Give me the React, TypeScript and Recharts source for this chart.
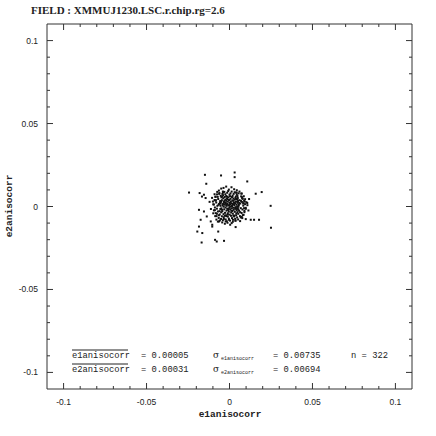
import { Scatter, ScatterChart, XAxis, YAxis } from 'recharts'

const TITLE = 'FIELD : XMMUJ1230.LSC.r.chip.rg=2.6'
const X_LABEL = 'e1anisocorr'
const Y_LABEL = 'e2anisocorr'

const DOMAIN: [number, number] = [-0.11, 0.11]
const MAJOR_TICKS = [-0.1, -0.05, 0, 0.05, 0.1]
const MAJOR_LABELS = ['-0.1', '-0.05', '0', '0.05', '0.1']
const ALL_TICKS = [
  -0.1, -0.09, -0.08, -0.07, -0.06, -0.05, -0.04, -0.03, -0.02, -0.01, 0,
  0.01, 0.02, 0.03, 0.04, 0.05, 0.06, 0.07, 0.08, 0.09, 0.1,
]

const MEAN_E1 = '0.00005'
const MEAN_E2 = '0.00031'
const SIGMA_E1 = '0.00735'
const SIGMA_E2 = '0.00694'
const N_STARS = 322

// [e1anisocorr, e2anisocorr]
const coreStars: Array<[number, number]> = [
  [-0.0053, 0.0017], [-0.0049, -0.0011], [-0.0046, 0.0038], [-0.0043, -0.0029], [-0.0041, 0.0006],
  [-0.0038, 0.005], [-0.0036, -0.0046], [-0.0034, 0.0027], [-0.0032, -0.0017], [-0.0029, 0.0057],
  [-0.0028, 0.0011], [-0.0027, -0.0038], [-0.0025, 0.0042], [-0.0024, -0.0006], [-0.0022, 0.0021],
  [-0.0021, -0.0053], [-0.002, 0.0034], [-0.0018, -0.0025], [-0.0017, 0.0004], [-0.0015, 0.0049],
  [-0.0014, -0.0013], [-0.0013, 0.0015], [-0.0011, -0.0041], [-0.001, 0.0029], [-0.0008, -0.0021],
  [-0.0007, 0.0055], [-0.0006, 0.0008], [-0.0004, -0.0031], [-0.0003, 0.0039], [-0.0001, -0.0007],
  [0.0, 0.0022], [0.0001, -0.0049], [0.0003, 0.0013], [0.0004, -0.0017], [0.0006, 0.0046],
  [0.0007, -0.0001], [0.0008, 0.0031], [0.001, -0.0036], [0.0011, 0.0018], [0.0013, -0.0011],
  [0.0014, 0.0056], [0.0015, 0.0003], [0.0017, -0.0027], [0.0018, 0.0036], [0.002, -0.0043],
  [0.0021, 0.0014], [0.0022, -0.0008], [0.0024, 0.0048], [0.0025, -0.002], [0.0027, 0.0025],
  [0.0028, -0.0055], [0.0029, 0.0007], [0.0031, 0.0041], [0.0032, -0.0032], [0.0034, 0.002],
  [0.0035, -0.0014], [0.0036, 0.0052], [0.0038, -0.0004], [0.0039, 0.0029], [0.0041, -0.0042],
  [0.0042, 0.0011], [0.0043, -0.0022], [0.0045, 0.0043], [0.0046, 0.0], [0.0048, -0.0034],
  [0.0049, 0.0022], [0.005, -0.001], [0.0052, 0.0035], [0.0053, -0.0018], [0.0055, 0.0008],
  [-0.005, 0.0028], [-0.0045, -0.002], [-0.0039, 0.0015], [-0.0035, -0.0001], [-0.0031, 0.0035],
  [-0.0027, 0.0022], [-0.0018, 0.001], [-0.0013, 0.0043], [-0.0006, -0.0014], [0.0, 0.0004],
  [0.0006, 0.0025], [0.0011, -0.0025], [0.0017, 0.0017], [0.0022, 0.0035], [0.0028, 0.0014],
  [0.0034, -0.0008], [0.0039, 0.0046], [0.0045, -0.0013], [-0.001, -0.0048], [0.0003, 0.0062],
]

const ringStars: Array<[number, number]> = [
  [-0.0098, 0.0013], [-0.0094, -0.0023], [-0.009, 0.0039], [-0.0088, -0.0006], [-0.0085, 0.0059],
  [-0.0083, -0.004], [-0.008, 0.0024], [-0.0078, -0.0058], [-0.0075, 0.0073], [-0.0073, 0.0004],
  [-0.007, -0.003], [-0.0068, 0.0045], [-0.0065, -0.0069], [-0.0063, 0.0015], [-0.0061, 0.0081],
  [-0.0059, -0.0048], [-0.0056, 0.0033], [-0.0055, -0.0015], [-0.0053, 0.0064], [-0.0051, -0.0075],
  [-0.0049, 0.0055], [-0.0046, -0.0059], [-0.0043, 0.0076], [-0.004, -0.0083], [-0.0038, 0.0068],
  [-0.0035, -0.0065], [-0.0031, 0.0088], [-0.0029, -0.0056], [-0.0025, 0.0074], [-0.0023, -0.0078],
  [-0.002, 0.0063], [-0.0016, -0.0089], [-0.0014, 0.0083], [-0.001, -0.0061], [-0.0008, 0.0093],
  [-0.0004, -0.0073], [0.0, 0.0071], [0.0003, -0.0085], [0.0006, 0.0079], [0.0009, -0.0056],
  [0.0013, 0.009], [0.0015, -0.007], [0.0019, 0.0065], [0.0021, -0.008], [0.0025, 0.0076],
  [0.0028, -0.006], [0.0031, 0.0086], [0.0034, -0.0074], [0.0038, 0.006], [0.004, -0.0053],
  [0.0044, 0.0071], [0.0046, -0.0066], [0.005, 0.0051], [0.0053, -0.0044], [0.0055, 0.0079],
  [0.0058, -0.0025], [0.006, 0.0038], [0.0063, -0.0058], [0.0065, 0.0018], [0.0068, -0.001],
  [0.007, 0.0061], [0.0073, -0.0039], [0.0075, 0.0028], [0.0078, -0.0018], [0.008, 0.0046],
  [0.0083, 0.0005], [0.0085, -0.005], [0.0088, 0.0034], [0.009, -0.0026], [0.0094, 0.0014],
  [0.0098, -0.0008], [0.0056, 0.0011], [0.0054, -0.0001], [0.0051, 0.003], [-0.0054, 0.0004],
  [-0.0058, 0.0024], [-0.006, -0.0028], [-0.0066, 0.001], [-0.005, -0.0035], [0.0059, 0.0021],
  [0.0064, -0.0034], [0.0069, 0.0034], [-0.0071, 0.0058], [-0.0076, -0.0013], [0.0076, 0.0056],
  [0.0074, -0.0063], [-0.0044, 0.0061], [0.0048, 0.0063], [-0.0034, -0.0075], [0.0036, -0.0084],
  [-0.0013, 0.0059], [0.0016, 0.0058], [-0.0019, -0.0058], [0.0023, -0.0055], [0.0083, 0.002],
  [-0.0084, 0.0035], [0.0071, 0.0078], [-0.0064, -0.0053], [0.0043, 0.0083], [-0.0039, 0.0084],
]

const haloStars: Array<[number, number]> = [
  [-0.012, 0.0028], [-0.0112, -0.0015], [-0.0105, 0.0052], [-0.0098, -0.0041], [-0.0094, 0.0012],
  [-0.009, 0.0074], [-0.0086, -0.0058], [-0.0082, 0.0038], [-0.0079, -0.0079], [-0.0074, 0.0088],
  [-0.007, -0.0091], [-0.0064, 0.0096], [-0.0058, -0.0084], [-0.005, 0.0108], [-0.0044, -0.0096],
  [-0.0036, 0.0112], [-0.0028, -0.0104], [-0.002, 0.012], [-0.0012, -0.0098], [-0.0004, 0.0102],
  [0.0004, -0.011], [0.0012, 0.0116], [0.002, -0.0092], [0.0028, 0.0104], [0.0036, -0.0086],
  [0.0044, 0.0098], [0.0052, -0.0078], [0.006, 0.009], [0.0068, -0.0066], [0.0074, 0.0078],
  [0.008, -0.0052], [0.0086, 0.0062], [0.009, -0.0034], [0.0094, 0.0044], [0.0098, -0.0014],
  [0.0102, 0.0026], [0.0108, 0.0008], [0.0114, -0.0024], [0.0084, 0.0018], [-0.0088, -0.0022],
  [0.0088, -0.001], [-0.0084, 0.0058], [0.0076, 0.005], [-0.0076, -0.0044], [0.0092, 0.003],
  [-0.01, 0.003], [0.0064, -0.0088], [-0.0062, 0.0076], [0.004, 0.0084], [-0.004, 0.009],
]

const outlierStars: Array<[number, number]> = [
  [-0.0148, 0.0191], [-0.0051, 0.0187], [0.0031, 0.0205], [0.0031, 0.0177], [0.0107, 0.0151],
  [-0.014, 0.0137], [-0.0244, 0.0084], [-0.018, 0.0081], [-0.0154, 0.0071], [-0.0166, 0.006],
  [-0.0144, 0.0051], [0.0158, 0.0077], [0.0194, 0.0087], [0.0248, 0.0004], [0.025, -0.0128],
  [0.0118, 0.0045], [0.0107, 0.0021], [-0.0184, -0.002], [-0.0154, -0.003], [-0.0137, -0.006],
  [-0.0174, -0.008], [-0.0113, -0.009], [-0.0104, -0.011], [-0.0184, -0.0121], [-0.0194, -0.0151],
  [-0.0164, -0.016], [-0.0104, -0.0121], [-0.0068, -0.0151], [-0.0168, -0.0217], [-0.0087, -0.0201],
  [-0.0077, -0.0211], [-0.0033, -0.0207], [0.0037, -0.0124], [0.0013, -0.01], [0.0077, -0.007],
  [0.0098, -0.0076], [0.0128, -0.008], [0.0148, -0.008], [0.0178, -0.008], [-0.0003, -0.008],
  [-0.0023, -0.009], [-0.0063, -0.009],
]

const stars = [...coreStars, ...ringStars, ...haloStars, ...outlierStars].map(([e1, e2]) => ({ e1, e2 }))

const W = 436
const H = 436
const INK = '#333'
const TEXT = '#222'
const MAJOR_LEN = 6
const MINOR_LEN = 3

const majorIndex = (v: number) => MAJOR_TICKS.findIndex((m) => Math.abs(m - v) < 1e-9)

const tickFont = { fontFamily: '"Liberation Sans", Arial, sans-serif', fontSize: 8.5, fill: TEXT }

function BottomTick({ x, y, payload }: any) {
  const i = majorIndex(payload.value)
  return (
    <g>
      <line x1={x} y1={y} x2={x} y2={y - (i >= 0 ? MAJOR_LEN : MINOR_LEN)} stroke={INK} />
      {i >= 0 && (
        <text x={x} y={y + 16} textAnchor="middle" {...tickFont}>
          {MAJOR_LABELS[i]}
        </text>
      )}
    </g>
  )
}

function TopTick({ x, y, payload }: any) {
  const len = majorIndex(payload.value) >= 0 ? MAJOR_LEN : MINOR_LEN
  return <line x1={x} y1={y} x2={x} y2={y + len} stroke={INK} />
}

function LeftTick({ x, y, payload }: any) {
  const i = majorIndex(payload.value)
  return (
    <g>
      <line x1={x} y1={y} x2={x + (i >= 0 ? MAJOR_LEN : MINOR_LEN)} y2={y} stroke={INK} />
      {i >= 0 && (
        <text x={x - 9} y={y + 3} textAnchor="end" {...tickFont}>
          {MAJOR_LABELS[i]}
        </text>
      )}
    </g>
  )
}

function RightTick({ x, y, payload }: any) {
  const len = majorIndex(payload.value) >= 0 ? MAJOR_LEN : MINOR_LEN
  return <line x1={x} y1={y} x2={x - len} y2={y} stroke={INK} />
}

function StarDot({ cx, cy }: any) {
  return <rect x={cx - 1} y={cy - 1} width={2} height={2} fill="#111" />
}

const monoFont = '"Liberation Mono", "DejaVu Sans Mono", monospace'

function Annotations() {
  return (
    <svg
      width={W}
      height={H}
      style={{ position: 'absolute', left: 0, top: 0, pointerEvents: 'none' }}
    >
      <text x={31} y={14} fontFamily='"Liberation Serif", serif' fontWeight="bold" fontSize={11} fill={TEXT}>
        {TITLE}
      </text>
      <text x={230} y={417} textAnchor="middle" fontFamily={monoFont} fontWeight="bold" fontSize={9.5} fill={TEXT}>
        {X_LABEL}
      </text>
      <text
        x={12}
        y={206}
        textAnchor="middle"
        transform="rotate(-90 12 206)"
        fontFamily={monoFont}
        fontWeight="bold"
        fontSize={9.5}
        fill={TEXT}
      >
        {Y_LABEL}
      </text>
      <g fontFamily={monoFont} fontSize={8.8} fill={TEXT}>
        <line x1={72} y1={350} x2={128} y2={350} stroke={TEXT} />
        <text x={72} y={358}>{X_LABEL}</text>
        <text x={141} y={358}>= {MEAN_E1}</text>
        <line x1={72} y1={364} x2={128} y2={364} stroke={TEXT} />
        <text x={72} y={372}>{Y_LABEL}</text>
        <text x={141} y={372}>= {MEAN_E2}</text>

        <text x={213} y={358} fontFamily='"DejaVu Serif", serif' fontSize={9}>σ</text>
        <text x={221} y={360} fontSize={5}>{X_LABEL}</text>
        <text x={273} y={358}>= {SIGMA_E1}</text>
        <text x={351} y={358}>n = {N_STARS}</text>
        <text x={213} y={372} fontFamily='"DejaVu Serif", serif' fontSize={9}>σ</text>
        <text x={221} y={374} fontSize={5}>{Y_LABEL}</text>
        <text x={273} y={372}>= {SIGMA_E2}</text>
      </g>
    </svg>
  )
}

export default function App() {
  return (
    <div style={{ position: 'absolute', left: 0, top: 0, width: W, height: H, background: '#fff' }}>
      <ScatterChart width={W} height={H} margin={{ top: 23, right: 23, bottom: 17, left: 17 }}>
        <XAxis
          xAxisId="bottom"
          type="number"
          dataKey="e1"
          orientation="bottom"
          domain={DOMAIN}
          allowDataOverflow
          ticks={ALL_TICKS}
          interval={0}
          height={30}
          tickSize={0}
          tickMargin={0}
          tickLine={false}
          axisLine={{ stroke: INK }}
          tick={BottomTick}
        />
        <XAxis
          xAxisId="top"
          type="number"
          dataKey="e1"
          orientation="top"
          domain={DOMAIN}
          allowDataOverflow
          ticks={ALL_TICKS}
          interval={0}
          height={1}
          tickSize={0}
          tickMargin={0}
          tickLine={false}
          axisLine={{ stroke: INK }}
          tick={TopTick}
        />
        <YAxis
          yAxisId="left"
          type="number"
          dataKey="e2"
          orientation="left"
          domain={DOMAIN}
          allowDataOverflow
          ticks={ALL_TICKS}
          interval={0}
          width={30}
          tickSize={0}
          tickMargin={0}
          tickLine={false}
          axisLine={{ stroke: INK }}
          tick={LeftTick}
        />
        <YAxis
          yAxisId="right"
          type="number"
          dataKey="e2"
          orientation="right"
          domain={DOMAIN}
          allowDataOverflow
          ticks={ALL_TICKS}
          interval={0}
          width={1}
          tickSize={0}
          tickMargin={0}
          tickLine={false}
          axisLine={{ stroke: INK }}
          tick={RightTick}
        />
        <Scatter
          data={stars}
          xAxisId="bottom"
          yAxisId="left"
          shape={StarDot}
          isAnimationActive={false}
        />
        <Scatter
          data={stars}
          xAxisId="top"
          yAxisId="right"
          shape={() => <g />}
          isAnimationActive={false}
        />
      </ScatterChart>
      <Annotations />
    </div>
  )
}
